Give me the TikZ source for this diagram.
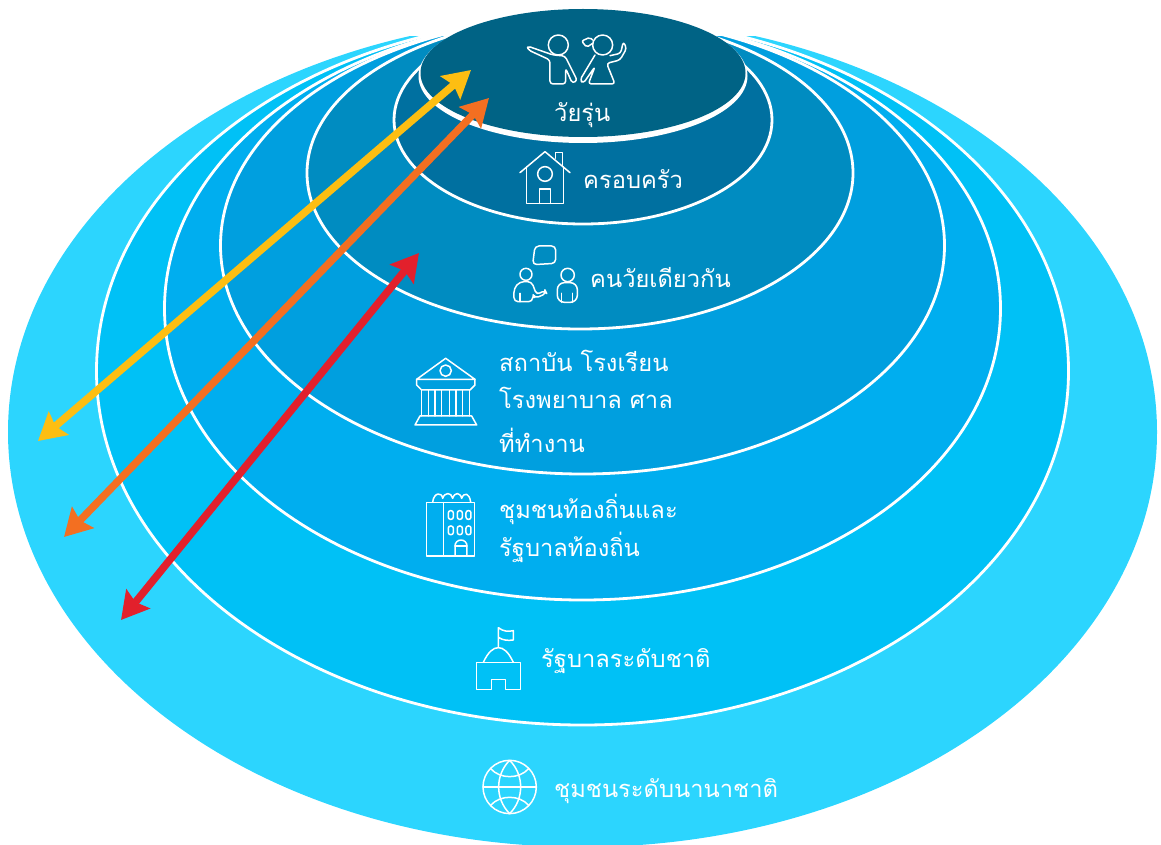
\documentclass[tikz,border=0pt]{standalone}
\usepackage{fontspec}
\setmainfont[Script=Thai]{Loma}
\usetikzlibrary{arrows.meta}
\definecolor{cA}{HTML}{2CD5FE}
\definecolor{cB}{HTML}{00C1F6}
\definecolor{cC}{HTML}{00AEEF}
\definecolor{cD}{HTML}{009FDF}
\definecolor{cE}{HTML}{008CC1}
\definecolor{cF}{HTML}{0070A0}
\definecolor{cG}{HTML}{006385}
\definecolor{arY}{HTML}{FDBE12}
\definecolor{arO}{HTML}{F36F21}
\definecolor{arR}{HTML}{E2202C}
\tikzset{
  band/.style={draw=white,line width=2.8pt},
  lbl/.style={text=white,anchor=base west,inner sep=0pt,font=\fontsize{23.7}{28}\selectfont},
  icon/.style={draw=white,line width=1.5pt,line join=round,line cap=round},
  dbl/.style={line width=7.5pt,{Stealth[length=27pt,width=30pt,inset=4pt]}-{Stealth[length=27pt,width=30pt,inset=4pt]}}
}
\begin{document}
\begin{tikzpicture}[x=1pt,y=-1pt]
\useasboundingbox (0,0) rectangle (1161,845);
\begin{scope}
\clip (0,36.5) rectangle (1161,845);
\fill[cA] (582.5,432) ellipse [x radius=574.5,y radius=415];
\filldraw[band,fill=cB] (582.5,371) ellipse [x radius=486,y radius=354];
\filldraw[band,fill=cC] (582.5,308.5) ellipse [x radius=418,y radius=291.5];
\filldraw[band,fill=cD] (582.5,245.5) ellipse [x radius=362,y radius=228.5];
\filldraw[band,fill=cE] (580,173) ellipse [x radius=273,y radius=156];
\filldraw[band,fill=cF] (583,120) ellipse [x radius=189,y radius=104];
\end{scope}
\fill[white] (583,76) ellipse [x radius=164.5,y radius=67];
\fill[cG] (583,73) ellipse [x radius=162.5,y radius=64];

\coordinate (yA) at (38,441); \coordinate (yB) at (471,70);
\coordinate (oA) at (64,537); \coordinate (oB) at (489,98);
\coordinate (rA) at (121,620); \coordinate (rB) at (419,253);
\draw[dbl,arY] (yA) -- (yB);
\draw[dbl,arO] (oA) -- (oB);
\draw[dbl,arR] (rA) -- (rB);

\node[lbl] (teen) at (554,122) {วัยรุ่น};
\node[lbl] (family) at (583,189) {ครอบครัว};
\node[lbl] (peer) at (590,287) {คนวัยเดียวกัน};
\node[lbl] (inst1) at (499,371) {สถาบัน โรงเรียน};
\node[lbl] (inst2) at (499,408) {โรงพยาบาล ศาล};
\node[lbl] (inst3) at (499,452) {ที่ทำงาน};
\node[lbl] (local1) at (499,518) {ชุมชนท้องถิ่นและ};
\node[lbl] (local2) at (499,556) {รัฐบาลท้องถิ่น};
\node[lbl] (nat) at (541,667) {รัฐบาลระดับชาติ};
\node[lbl] (intl) at (554,797) {ชุมชนระดับนานาชาติ};

% teens and house
\begin{scope}[shift={(380,0)},x=0.3333pt,y=-0.3333pt,icon]
\draw (535,135) circle [radius=30];
\draw[rounded corners=3pt] (510,252) -- (510,180) -- (445,150) -- (442,138) -- (505,160) -- (520,165) -- (555,168) -- (592,242) -- (577,250) -- (557,205) -- (557,252) -- cycle;
\draw (668,135) circle [radius=30];
\draw[rounded corners=2pt] (638,120) -- (630,112) -- (605,123) -- (620,142) -- (638,130);
\draw[rounded corners=3pt] (645,165) -- (600,240) -- (610,250) -- (645,200) -- (625,252) -- (705,252) -- (680,190) -- (720,180) -- (740,145) -- (730,125) -- (722,160) -- (690,167);
\draw (420,518) -- (495,455) -- (570,518);
\draw (440,500) -- (440,610) -- (550,610) -- (550,500);
\draw (527,475) -- (527,458) -- (548,458) -- (548,497);
\draw (495,522) circle [radius=22];
\draw (478,610) -- (478,567) -- (512,567) -- (512,610);
\end{scope}

% peers and institution
\begin{scope}[shift={(400,230)},x=0.3333pt,y=-0.3333pt,icon]
\draw[rounded corners=4pt] (398,104) -- (405,48) -- (467,48) -- (467,100) -- cycle;
\draw (378,133) circle [radius=18];
\draw[rounded corners=4pt] (342,215) -- (342,175) -- (360,155) -- (395,155) -- (410,195) -- (435,180) -- (440,190) -- (405,205) -- (398,192) -- (398,215) -- cycle;
\draw (360,190) -- (360,215);
\draw (503,135) circle [radius=20];
\draw[rounded corners=7pt] (472,217) -- (472,158) -- (532,158) -- (532,217) -- cycle;
\draw (485,190) -- (485,217) (518,190) -- (518,217);
\draw (50,448) -- (137,385) -- (225,448) -- cycle;
\draw (137,422) circle [radius=17];
\draw (50,448) -- (50,465) -- (65,480) -- (210,480) -- (225,465) -- (225,448);
\foreach \cx in {65,85,105,125,148,168,188,208} \draw (\cx,480) -- (\cx,558);
\draw (60,558) -- (215,558) -- (230,585) -- (45,585) -- cycle;
\end{scope}

% tower, government, globe
\begin{scope}[shift={(400,480)},x=0.3333pt,y=-0.3333pt,icon]
\draw (80,68) rectangle (223,228);
\draw (130,68) -- (130,228);
\draw (98,66) .. controls (102,36) and (126,36) .. (128,55) .. controls (134,36) and (154,36) .. (158,55) .. controls (164,36) and (180,36) .. (185,55) .. controls (192,36) and (208,38) .. (212,66);
\foreach \wx in {145,172,198} \foreach \wy in {92,138}
  \draw[rounded corners=2.2pt] (\wx,\wy) rectangle (\wx+15,\wy+26);
\draw (165,228) -- (165,198) arc [start angle=180,end angle=360,x radius=18,y radius=18] -- (201,228);
\draw (165,198) -- (201,198);
\draw (295,500) -- (295,443) .. controls (310,455) and (325,455) .. (340,452) -- (340,480) .. controls (325,482) and (310,482) .. (295,472);
\draw (250,547) .. controls (265,515) and (280,503) .. (295,503) .. controls (310,503) and (325,515) .. (340,547);
\draw (230,547) -- (362,547) -- (362,628) -- (317,628) -- (317,598) -- (275,598) -- (275,628) -- (230,628) -- cycle;
\draw (329,921) circle [radius=80];
\draw (329,841) .. controls (285,885) and (285,957) .. (329,1001) .. controls (373,957) and (373,885) .. (329,841);
\draw (249,921) -- (409,921);
\draw (272,866) .. controls (300,898) and (358,898) .. (386,866);
\draw (272,976) .. controls (300,944) and (358,944) .. (386,976);
\end{scope}
\end{tikzpicture}
\end{document}
